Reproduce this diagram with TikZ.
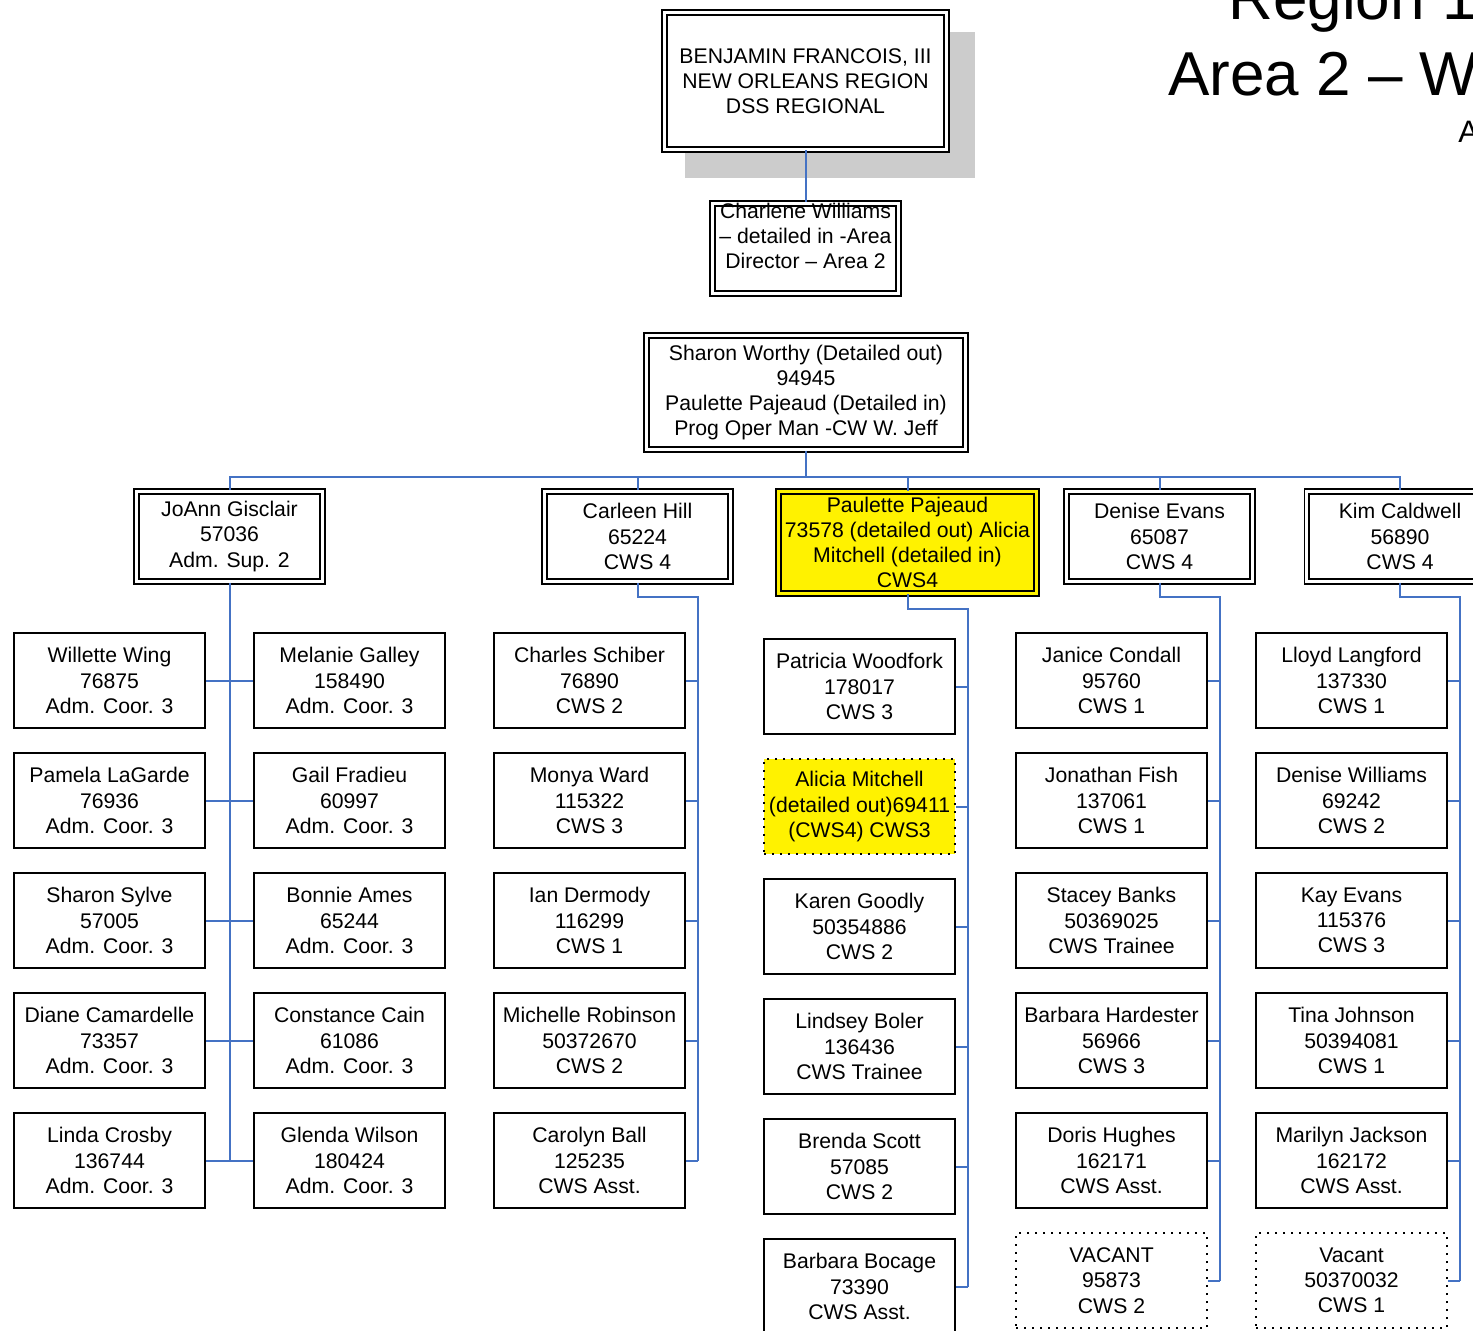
\documentclass[tikz,border=0pt]{standalone}
\usepackage{fontspec}
\setmainfont{Liberation Sans}
\definecolor{linkblue}{HTML}{4472C4}
\begin{document}
\begin{tikzpicture}
  [x=0.5pt,y=-0.5pt,
   every node/.style={align=center,inner sep=0pt,font=\fontsize{10.6}{12.6}\selectfont},
   box/.style={draw,fill=white,line width=1pt,minimum width=95.5pt,minimum height=47.5pt},
   dbox/.style={draw,fill=white,double,line width=0.9pt,double distance=1.5pt,minimum width=93.2pt,minimum height=45.2pt},
   dotbox/.style={draw,line width=0.8pt,dash pattern=on 0.8pt off 3.2pt,minimum width=95.5pt,minimum height=47.5pt},
   link/.style={draw=linkblue,line width=1pt}]
  \useasboundingbox (0,0) rectangle (1473,1330);
  \clip (0,0) rectangle (1473,1330);
  % title, cut off at the right
  \node (t1)[anchor=base west,font=\fontsize{31}{37}\selectfont] at (1228,19) {Region 1};
  \node (t2)[anchor=base west,font=\fontsize{31}{37}\selectfont] at (1168,95) {Area 2 -- W};
  \node (t3)[anchor=base west,font=\fontsize{15.5}{18}\selectfont] at (1458,142) {A};
  % top
  \fill[black!20] (685,32) rectangle (975,178);
  \node (rd)[dbox,minimum width=141pt,minimum height=68.5pt] at (805.5,81) {BENJAMIN FRANCOIS, III\\NEW ORLEANS REGION\\DSS REGIONAL};
  \node (cw)[dbox] at (805.5,248.5) {};
  \node (cwt) at (805.5,236) {Charlene Williams\\-- detailed in -Area\\Director -- Area 2};
  \node (sw)[dbox,minimum width=159.7pt,minimum height=57.2pt] at (806,392.5) {Sharon Worthy (Detailed out)\\94945\\Paulette Pajeaud (Detailed in)\\Prog Oper Man -CW W. Jeff};
  % supervisors
  \node (jg)[dbox] at (229.5,536.5) {JoAnn Gisclair\\57036\\Adm. Sup. 2};
  \node (ch)[dbox] at (637.5,536.5) {Carleen Hill\\65224\\CWS 4};
  \node (pp)[dbox,fill=yellow,double=yellow,minimum width=129pt,minimum height=51pt] at (907.5,542.5) {Paulette Pajeaud\\73578 (detailed out) Alicia\\Mitchell (detailed in)\\CWS4};
  \node (de)[dbox] at (1159.5,536.5) {Denise Evans\\65087\\CWS 4};
  \node (kc)[dbox] at (1400,536.5) {Kim Caldwell\\56890\\CWS 4};
  % JoAnn Gisclair
  \node (w1)[box] at (109.5,680.5) {Willette Wing\\76875\\Adm. Coor. 3};
  \node (w2)[box] at (109.5,800.5) {Pamela LaGarde\\76936\\Adm. Coor. 3};
  \node (w3)[box] at (109.5,920.5) {Sharon Sylve\\57005\\Adm. Coor. 3};
  \node (w4)[box] at (109.5,1040.5) {Diane Camardelle\\73357\\Adm. Coor. 3};
  \node (w5)[box] at (109.5,1160.5) {Linda Crosby\\136744\\Adm. Coor. 3};
  \node (m1)[box] at (349.5,680.5) {Melanie Galley\\158490\\Adm. Coor. 3};
  \node (m2)[box] at (349.5,800.5) {Gail Fradieu\\60997\\Adm. Coor. 3};
  \node (m3)[box] at (349.5,920.5) {Bonnie Ames\\65244\\Adm. Coor. 3};
  \node (m4)[box] at (349.5,1040.5) {Constance Cain\\61086\\Adm. Coor. 3};
  \node (m5)[box] at (349.5,1160.5) {Glenda Wilson\\180424\\Adm. Coor. 3};
  % Carleen Hill
  \node (c1)[box] at (589.5,680.5) {Charles Schiber\\76890\\CWS 2};
  \node (c2)[box] at (589.5,800.5) {Monya Ward\\115322\\CWS 3};
  \node (c3)[box] at (589.5,920.5) {Ian Dermody\\116299\\CWS 1};
  \node (c4)[box] at (589.5,1040.5) {Michelle Robinson\\50372670\\CWS 2};
  \node (c5)[box] at (589.5,1160.5) {Carolyn Ball\\125235\\CWS Asst.};
  % Paulette Pajeaud
  \node (p1)[box] at (859.5,686.5) {Patricia Woodfork\\178017\\CWS 3};
  \node (p2)[dotbox,fill=yellow] at (859.5,806.5) {Alicia Mitchell\\(detailed out)69411\\(CWS4) CWS3};
  \node (p3)[box] at (859.5,926.5) {Karen Goodly\\50354886\\CWS 2};
  \node (p4)[box] at (859.5,1046.5) {Lindsey Boler\\136436\\CWS Trainee};
  \node (p5)[box] at (859.5,1166.5) {Brenda Scott\\57085\\CWS 2};
  \node (p6)[box] at (859.5,1286.5) {Barbara Bocage\\73390\\CWS Asst.};
  % Denise Evans
  \node (d1)[box] at (1111.5,680.5) {Janice Condall\\95760\\CWS 1};
  \node (d2)[box] at (1111.5,800.5) {Jonathan Fish\\137061\\CWS 1};
  \node (d3)[box] at (1111.5,920.5) {Stacey Banks\\50369025\\CWS Trainee};
  \node (d4)[box] at (1111.5,1040.5) {Barbara Hardester\\56966\\CWS 3};
  \node (d5)[box] at (1111.5,1160.5) {Doris Hughes\\162171\\CWS Asst.};
  \node (d6)[dotbox] at (1111.5,1280.5) {VACANT\\95873\\CWS 2};
  % Kim Caldwell
  \node (k1)[box] at (1351.5,680.5) {Lloyd Langford\\137330\\CWS 1};
  \node (k2)[box] at (1351.5,800.5) {Denise Williams\\69242\\CWS 2};
  \node (k3)[box] at (1351.5,920.5) {Kay Evans\\115376\\CWS 3};
  \node (k4)[box] at (1351.5,1040.5) {Tina Johnson\\50394081\\CWS 1};
  \node (k5)[box] at (1351.5,1160.5) {Marilyn Jackson\\162172\\CWS Asst.};
  \node (k6)[dotbox] at (1351.5,1280.5) {Vacant\\50370032\\CWS 1};
  % connectors
  \coordinate (bus) at (806,477);
  \coordinate (cb) at (698,597);
  \coordinate (pb) at (968,609);
  \coordinate (db) at (1220,597);
  \coordinate (kb) at (1460,597);
  \draw[link] (rd) -- (cw);
  \draw[link] (sw) -- (bus);
  \foreach \to in {jg,ch,pp,de,kc}
    \draw[link] (bus) -| (\to.north);
  \draw[link] (jg) -- (jg.south |- w5.east);
  \foreach \i in {1,...,5}
    \draw[link] (w\i.east) -- (m\i.west);
  \draw[link] (ch) |- (cb) -- (cb |- c5.east);
  \draw[link] (pp) |- (pb) -- (pb |- p6.east);
  \draw[link] (de) |- (db) -- (db |- d6.east);
  \draw[link] (kc) |- (kb) -- (kb |- k6.east);
  \foreach \from/\to in {c1/cb,c2/cb,c3/cb,c4/cb,c5/cb,p1/pb,p2/pb,p3/pb,p4/pb,p5/pb,p6/pb,
      d1/db,d2/db,d3/db,d4/db,d5/db,d6/db,k1/kb,k2/kb,k3/kb,k4/kb,k5/kb,k6/kb}
    \draw[link] (\from.east) -- (\from.east -| \to);
\end{tikzpicture}
\end{document}
